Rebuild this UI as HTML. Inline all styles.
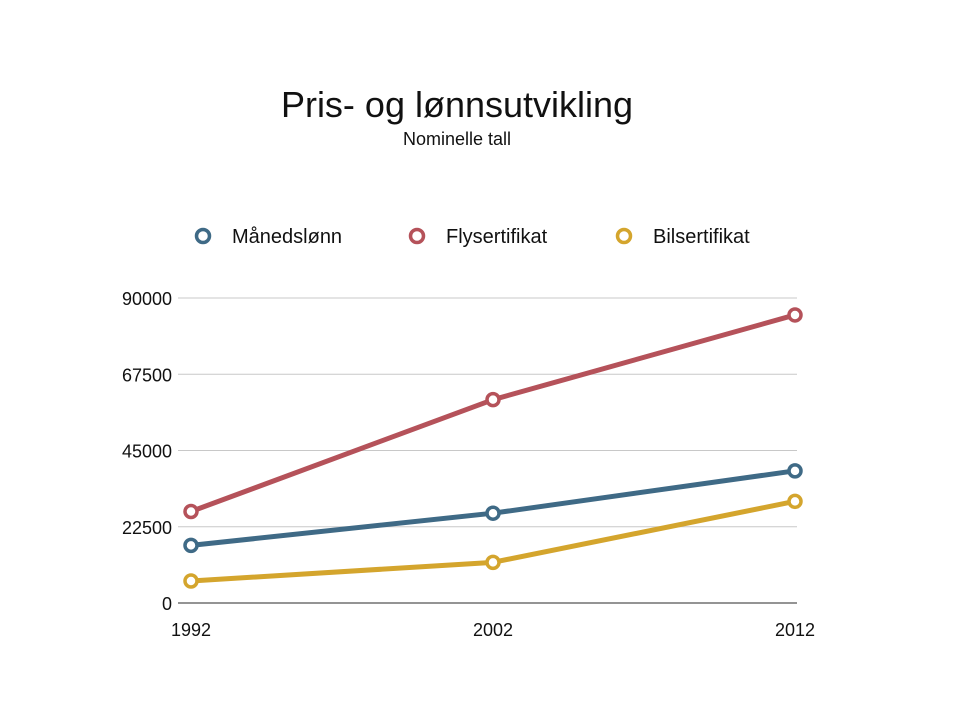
<!DOCTYPE html>
<html><head><meta charset="utf-8"><style>
body{margin:0;background:#fff;}
svg text{font-family:"Liberation Sans",sans-serif;fill:#111;}
</style></head><body>
<svg width="960" height="720" viewBox="0 0 960 720">
<text x="457" y="117" font-size="36" text-anchor="middle">Pris- og lønnsutvikling</text>
<text x="457" y="145" font-size="18" text-anchor="middle">Nominelle tall</text>
<g id="legend"></g>
<g id="grid"></g>
<g id="series"></g>
</svg>
<script>
const categories=["1992","2002","2012"];
const yTicks=[0,22500,45000,67500,90000];
const seriesNames=["Månedslønn","Flysertifikat","Bilsertifikat"];
const manedslonn=[17000,26500,39000];
const flysertifikat=[27000,60000,85000];
const bilsertifikat=[6500,12000,30000];
const colors=["#3f6a86","#b5525a","#d4a52d"];
const NS="http://www.w3.org/2000/svg";
function mk(t,a,p){const e=document.createElementNS(NS,t);for(const k in a)e.setAttribute(k,a[k]);p.appendChild(e);return e;}
const x0=191,x1=795,yb=603,yt=298,yMax=90000;
function xs(i){return x0+(x1-x0)*i/(categories.length-1);}
function ys(v){return yb-(yb-yt)*v/yMax;}
const grid=document.getElementById('grid');
yTicks.forEach(v=>{
 const l=mk('line',{x1:178,x2:797,y1:ys(v),y2:ys(v),stroke:v===0?'#555':'#c8c8c8','stroke-width':v===0?1.2:1},grid);
 
 
 const t=mk('text',{x:172,y:ys(v)+7,'font-size':18,'text-anchor':'end'},grid);
 t.textContent=String(v);
 
 
});
categories.forEach((c,i)=>{
 const t=mk('text',{x:xs(i),y:636,'font-size':18,'text-anchor':'middle'},grid);
 t.textContent=c;
 
 
});
const data=[manedslonn,flysertifikat,bilsertifikat];
const ser=document.getElementById('series');
data.forEach((d,s)=>{
 const p=mk('polyline',{points:d.map((v,i)=>xs(i)+','+ys(v)).join(' '),fill:'none',stroke:colors[s],'stroke-width':5,'stroke-linejoin':'round'},ser);
 
 
 d.forEach((v,i)=>{
  const c=mk('circle',{cx:xs(i),cy:ys(v),r:6,fill:'#fff',stroke:colors[s],'stroke-width':3.5},ser);
  
  
 });
});
const leg=document.getElementById('legend');
const lx=[203,417,624];
seriesNames.forEach((n,s)=>{
 const c=mk('circle',{cx:lx[s],cy:236,r:6.5,fill:'#fff',stroke:colors[s],'stroke-width':3.5},leg);
 
 
 const t=mk('text',{x:lx[s]+29,y:243,'font-size':20},leg);
 t.textContent=n;
 
 
});
</script>
</body></html>
